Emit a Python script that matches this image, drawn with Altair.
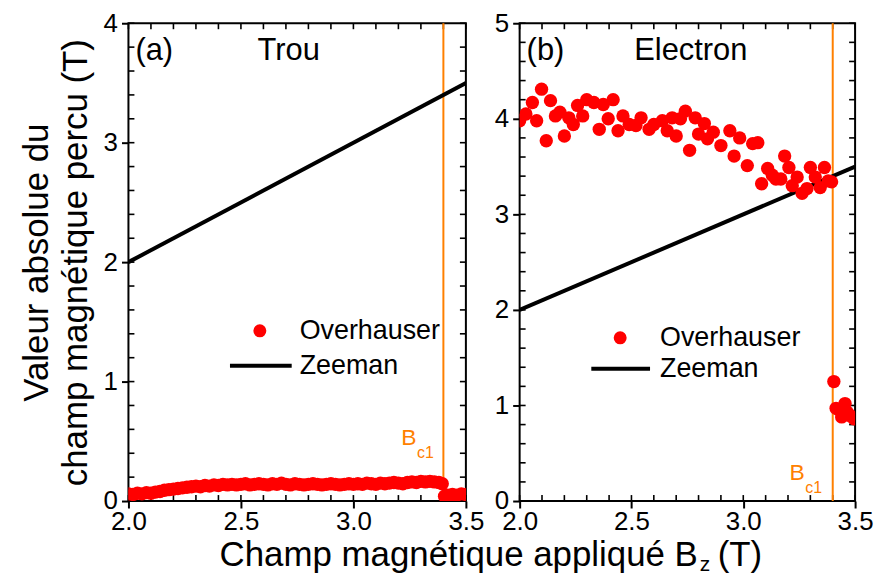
import altair as alt
import pandas as pd

FONT = "Liberation Sans"
RED = "#ff0000"
ORANGE = "#ff8000"

# ---------------- data ----------------
# (a) Trou : Overhauser field vs applied field
bz_a = [2.00, 2.02, 2.04, 2.06, 2.08, 2.10, 2.12, 2.14, 2.16, 2.18,
        2.20, 2.22, 2.24, 2.26, 2.28, 2.30, 2.32, 2.34, 2.36, 2.38,
        2.40, 2.42, 2.44, 2.46, 2.48, 2.50, 2.52, 2.54, 2.56, 2.58,
        2.60, 2.62, 2.64, 2.66, 2.68, 2.70, 2.72, 2.74, 2.76, 2.78,
        2.80, 2.82, 2.84, 2.86, 2.88, 2.90, 2.92, 2.94, 2.96, 2.98,
        3.00, 3.02, 3.04, 3.06, 3.08, 3.10, 3.12, 3.14, 3.16, 3.18,
        3.20, 3.22, 3.24, 3.26, 3.28, 3.30, 3.32, 3.34, 3.36, 3.38,
        3.395, 3.405, 3.42, 3.44, 3.46, 3.48, 3.50]
ov_a = [0.060, 0.055, 0.065, 0.060, 0.070, 0.065, 0.075, 0.080, 0.090, 0.095,
        0.100, 0.105, 0.110, 0.115, 0.120, 0.125, 0.120, 0.130, 0.125, 0.135,
        0.130, 0.140, 0.135, 0.140, 0.135, 0.140, 0.145, 0.135, 0.140, 0.145,
        0.140, 0.135, 0.145, 0.140, 0.150, 0.140, 0.135, 0.145, 0.140, 0.135,
        0.140, 0.145, 0.140, 0.135, 0.140, 0.145, 0.140, 0.135, 0.140, 0.145,
        0.140, 0.145, 0.140, 0.150, 0.145, 0.140, 0.150, 0.145, 0.150, 0.155,
        0.150, 0.145, 0.155, 0.160, 0.155, 0.165, 0.160, 0.165, 0.160, 0.155,
        0.145, 0.040, 0.050, 0.055, 0.050, 0.060, 0.055]

# (b) Electron
bz_b = [2.000, 2.028, 2.057, 2.076, 2.098, 2.119, 2.138, 2.160, 2.180, 2.200,
        2.220, 2.240, 2.259, 2.282, 2.300, 2.332, 2.356, 2.374, 2.396, 2.418,
        2.440, 2.462, 2.490, 2.520, 2.543, 2.579, 2.600, 2.638, 2.660, 2.682,
        2.700, 2.719, 2.741, 2.760, 2.785, 2.800, 2.826, 2.840, 2.866, 2.900,
        2.940, 2.959, 2.984, 3.018, 3.042, 3.065, 3.082, 3.109, 3.130, 3.146,
        3.168, 3.185, 3.204, 3.219, 3.241, 3.263, 3.285, 3.300, 3.322, 3.344,
        3.363, 3.380, 3.395,
        3.405, 3.415, 3.430, 3.440, 3.455, 3.465, 3.480, 3.495]
ov_b = [3.98, 4.05, 4.17, 3.98, 4.31, 3.77, 4.19, 4.03, 4.07, 3.82,
        4.01, 3.94, 4.14, 4.03, 4.20, 4.17, 3.89, 4.15, 4.00, 4.20,
        3.875, 4.03, 3.94, 3.93, 4.01, 3.89, 3.94, 3.98, 3.875, 4.01,
        3.82, 4.00, 4.08, 3.67, 4.01, 3.84, 3.95, 3.79, 3.86, 3.72,
        3.875, 3.61, 3.80, 3.51, 3.74, 3.75, 3.32, 3.48, 3.41, 3.37,
        3.37, 3.61, 3.49, 3.30, 3.39, 3.22, 3.27, 3.49, 3.39, 3.28,
        3.49, 3.35, 3.34,
        1.25, 0.97, 0.95, 0.88, 1.02, 0.93, 0.89, 0.86]

# Zeeman field
bz_zeeman = [2.0, 3.5]
zeeman = [2.0, 3.5]

bc1 = 3.4

X_MAJOR = [2.0, 2.5, 3.0, 3.5]
X_MINOR = [2.0, 2.1, 2.2, 2.3, 2.4, 2.5, 2.6, 2.7, 2.8, 2.9, 3.0, 3.1, 3.2, 3.3, 3.4, 3.5]

H = 480
TK = 6  # inward tick length


def txt(text, x, y, size, align="left", color="black", baseline="middle"):
    return alt.Chart(alt.Data(values=[{}])).mark_text(
        font=FONT, fontSize=size, align=align, baseline=baseline, color=color
    ).encode(x=alt.value(x), y=alt.value(y), text=alt.value(text))


def panel(xv, yv, ymax, W, tag, name, name_x, ytitle, leg, bcpos, extra):
    xsc = alt.Scale(domain=[2.0, 3.5], nice=False, zero=False)
    ysc = alt.Scale(domain=[0, ymax], nice=False, zero=False)
    pts = pd.DataFrame({"Bz": xv, "B": yv})
    zdf = pd.DataFrame({"Bz": bz_zeeman, "B": zeeman})
    y_major = list(range(ymax + 1))
    y_minor = [round(0.2 * i, 1) for i in range(ymax * 5 + 1)]

    yaxis_kw = dict(values=y_major, format="d", labelFontSize=26, labelFont=FONT,
                    labelColor="black", tickSize=7, tickWidth=2, tickColor="black",
                    domain=False, grid=False, labelPadding=4)
    if ytitle is not None:
        yaxis_kw.update(title=ytitle, titleFont=FONT, titleFontSize=35,
                        titleFontWeight="normal", titleColor="black",
                        titlePadding=10, titleLineHeight=39)
    else:
        yaxis_kw.update(title=None)
    main_y = alt.Axis(**yaxis_kw)
    main_x = alt.Axis(values=X_MAJOR, format=".1f", labelFontSize=26, labelFont=FONT,
                      labelColor="black", tickSize=7, tickWidth=2, tickColor="black",
                      domain=False, grid=False, title=None, labelPadding=1,
                      labelFlush=False)

    X = alt.X("Bz:Q", scale=xsc, axis=main_x)
    Y = alt.Y("B:Q", scale=ysc, axis=main_y)

    # inward ticks on all four sides, placed through the scales
    xt = pd.DataFrame({"Bz": X_MINOR})
    yt = pd.DataFrame({"B": y_minor})
    tick_mark = dict(color="black", strokeWidth=1.6)
    t_bottom = alt.Chart(xt).mark_rule(**tick_mark).encode(
        x=X, y=alt.value(H - TK), y2=alt.value(H))
    t_top = alt.Chart(xt).mark_rule(**tick_mark).encode(
        x=X, y=alt.value(0), y2=alt.value(TK))
    t_left = alt.Chart(yt).mark_rule(**tick_mark).encode(
        y=Y, x=alt.value(0), x2=alt.value(TK))
    t_right = alt.Chart(yt).mark_rule(**tick_mark).encode(
        y=Y, x=alt.value(W - TK), x2=alt.value(W))

    zline = alt.Chart(zdf).mark_line(color="black", strokeWidth=4, clip=True).encode(x=X, y=Y)
    rule = alt.Chart(pd.DataFrame({"Bz": [bc1]})).mark_rule(color=ORANGE, strokeWidth=2).encode(x=X)
    points = alt.Chart(pts).mark_circle(size=180, color=RED, opacity=1, clip=True).encode(x=X, y=Y)

    (dx, dy, tx, lx1, lx2, ly) = leg
    leg_dot = alt.Chart(alt.Data(values=[{}])).mark_circle(size=170, color=RED, opacity=1).encode(
        x=alt.value(dx), y=alt.value(dy))
    leg_line = alt.Chart(alt.Data(values=[{}])).mark_rule(color="black", strokeWidth=4).encode(
        x=alt.value(lx1), x2=alt.value(lx2), y=alt.value(ly))
    layers = [t_bottom, t_top, t_left, t_right, rule, zline, points,
              txt(tag, 7, 28, 31), txt(name, name_x, 28, 31, align="center"),
              leg_dot, leg_line,
              txt("Overhauser", tx, dy, 27), txt("Zeeman", tx, ly, 27),
              txt("B", bcpos[0], bcpos[1], 23, color=ORANGE),
              txt("c1", bcpos[0] + 16, bcpos[1] + 15, 16, color=ORANGE)] + extra
    return alt.layer(*layers).properties(width=W, height=H)


xtitle = [
    txt("Champ magnétique appliqué B", 572, 545, 35, align="right", baseline="alphabetic"),
    txt("z", 574, 550, 21, baseline="alphabetic"),
    txt("(T)", 592, 545, 35, baseline="alphabetic"),
]

pa = panel(bz_a, ov_a, 4, 339, "(a)", "Trou", 161,
           ["Valeur absolue du", "champ magnétique percu (T)"],
           (132, 309, 172, 102, 164, 344), (274, 417), xtitle)
pb = panel(bz_b, ov_b, 5, 337, "(b)", "Electron", 172, None,
           (101, 316, 141, 72, 131, 347), (271, 452), [])

chart = alt.hconcat(pa, pb, spacing=54, bounds="flush").properties(
    padding={"left": 10, "top": 0, "right": 0, "bottom": -2}
).configure_view(stroke="black", strokeWidth=2)

chart.save("out.html", embed_options={"renderer": "svg", "actions": False})
